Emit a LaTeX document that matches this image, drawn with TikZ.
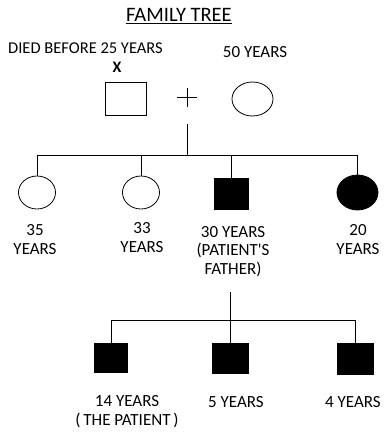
\documentclass[tikz,border=0pt]{standalone}
\usepackage{fontspec}
\setmainfont{Carlito}
\usetikzlibrary{shapes.geometric}

\begin{document}
\begin{tikzpicture}[
				x=1pt, y=-1pt,
				link/.style={line width=0.9pt},
				male/.style={draw, line width=0.8pt, minimum width=36pt, minimum height=30pt, inner sep=0pt},
				female/.style={draw, ellipse, line width=0.8pt, minimum width=38pt, minimum height=34pt, inner sep=0pt},
				affected/.style={fill=black},
				agetext/.style={align=center, font=\fontsize{17}{18.8}\selectfont, inner sep=0pt},
			]
				\useasboundingbox (0,0) rectangle (385,434);
				\node (title) [font=\fontsize{20.5}{22}\selectfont, inner sep=0pt] at (179,16) {\underline{FAMILY TREE}};
				
				% grandparents
				\node (died) [agetext, font=\fontsize{16.5}{18}\selectfont] at (85.5,48) {DIED BEFORE 25 YEARS};
				\node (cross) [agetext, font=\bfseries\fontsize{16}{18}\selectfont] at (117,67) {X};
				\node (gf) [male, minimum width=41pt, minimum height=33pt] at (125.5,98.5) {};
				\node (gm) [female, minimum width=41pt] at (252.5,99) {};
				\node (gmage) [agetext] at (255,52) {50 YEARS};
				\coordinate (union) at (187,97);
				\draw[line width=0.7pt] ([xshift=-10pt]union) -- ([xshift=10pt]union);
				\draw[line width=0.7pt] ([yshift=-9.5pt]union) -- ([yshift=9.5pt]union);
				
				% children
				\node (c1) [female, minimum width=37pt, minimum height=33pt] at (37,192.5) {};
				\node (c2) [female, minimum width=37pt, minimum height=33pt] at (141,192.5) {};
				\node (c3) [male, affected, minimum width=34pt, minimum height=31pt] at (231,193.5) {};
				\node (c4) [female, affected, minimum width=41pt, minimum height=35pt] at (357.5,192.5) {};
				\node (c1age) [agetext] at (35,239.5) {35\\YEARS};
				\node (c2age) [agetext] at (142,237.5) {33\\YEARS};
				\node (c3age) [agetext] at (233,251.5) {30 YEARS\\(PATIENT\textquotesingle S\\FATHER)};
				\node (c4age) [agetext] at (358,239.5) {20\\YEARS};
				
				\coordinate (drop1) at (187,124);
				\coordinate (sib1) at (187,155);
				\draw[link] (drop1) -- (sib1);
				\draw[link] (c1.north) -- (c1.north |- sib1) -- (c4.north |- sib1) -- (c4.north);
				\draw[link] (c2.north |- sib1) -- (c2.north);
				\draw[link] (c3.north |- sib1) -- (c3.north);
				
				% grandchildren
				\node (g1) [male, affected, minimum width=33pt, minimum height=29pt] at (111,357.5) {};
				\node (g2) [male, affected] at (230,358) {};
				\node (g3) [male, affected, minimum height=31pt] at (355,358.5) {};
				\node (g1age) [agetext] at (127,411.5) {14 YEARS\\(\,THE PATIENT\,)};
				\node (g2age) [agetext] at (236,402) {5 YEARS};
				\node (g3age) [agetext] at (353,402) {4 YEARS};
				
				\coordinate (drop2) at (230,292);
				\coordinate (sib2) at (230,320);
				\draw[link] (drop2) -- (g2.north);
				\draw[link] (g1.north) -- (g1.north |- sib2) -- (g3.north |- sib2) -- (g3.north);
			\end{tikzpicture}
\end{document}
